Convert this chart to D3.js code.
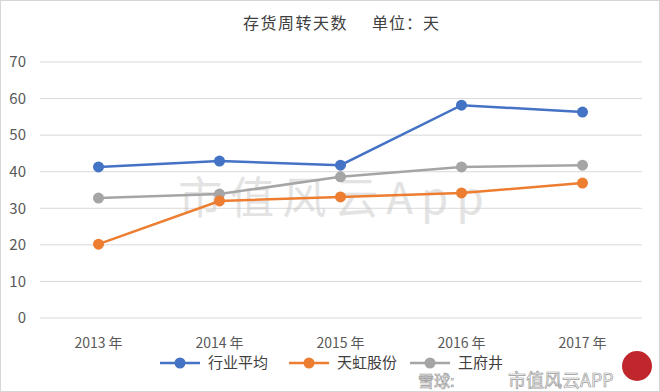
<!DOCTYPE html>
<html>
<head>
<meta charset="utf-8">
<script src="https://cdn.jsdelivr.net/npm/d3@7"></script>
<style>
  body { margin: 0; background: #fff; }
  svg { display: block; font-family: "Noto Sans CJK SC", "Noto Sans", sans-serif; }
</style>
</head>
<body>
<div id="chart"></div>
<script>
const years = ["2013 年", "2014 年", "2015 年", "2016 年", "2017 年"];
const industryAvg = [41.3, 42.9, 41.8, 58.2, 56.3];
const tianhong = [20.2, 32.0, 33.1, 34.2, 36.9];
const peer = [32.8, 33.9, 38.6, 41.3, 41.8];
const yTicks = [0, 10, 20, 30, 40, 50, 60, 70];
const seriesNames = ["行业平均", "天虹股份", "王府井"];

const W = 660, H = 392;
const svg = d3.select("#chart").append("svg")
  .attr("width", W).attr("height", H);

// faint frame around picture
svg.append("rect")
  .attr("x", 0.5).attr("y", 0.5)
  .attr("width", W - 1).attr("height", H - 1)
  .attr("fill", "none").attr("stroke", "#d6d6d6");

const x = d3.scaleBand().domain(years).range([38, 643]);
const y = d3.scaleLinear().domain([0, 70]).range([318, 62]);

// grid
svg.append("g")
  .selectAll("line")
  .data(yTicks)
  .join("line")
  .attr("x1", 40).attr("x2", 642)
  .attr("y1", d => y(d)).attr("y2", d => y(d))
  .attr("stroke", "#d9d9d9").attr("stroke-width", 1);

// y labels
svg.append("g")
  .selectAll("text")
  .data(yTicks)
  .join("text")
  .attr("x", 26).attr("y", d => y(d))
  .attr("dy", "0.35em")
  .attr("text-anchor", "end")
  .style("font-size", "15px")
  .style("fill", "#595959")
  .text(d => d);

// x labels
svg.append("g")
  .selectAll("text")
  .data(years)
  .join("text")
  .attr("x", d => x(d) + x.bandwidth() / 2)
  .attr("y", 343)
  .attr("dy", "0.35em")
  .attr("text-anchor", "middle")
  .style("font-size", "14px")
  .style("fill", "#595959")
  .text(d => d);

// watermark inside plot
svg.append("text")
  .attr("x", 335).attr("y", 214)
  .attr("text-anchor", "middle")
  .style("font-size", "44px")
  .style("letter-spacing", "8px")
  .style("fill", "#c8c8c8")
  .style("opacity", 0.5)
  .text("市值风云App");

// title
svg.append("text")
  .attr("x", 243).attr("y", 23)
  .attr("dy", "0.35em")
  .style("font-size", "16px")
  .style("letter-spacing", "1.5px")
  .style("fill", "#404040")
  .text("存货周转天数");
svg.append("text")
  .attr("x", 372).attr("y", 23)
  .attr("dy", "0.35em")
  .style("font-size", "16px")
  .style("letter-spacing", "1px")
  .style("fill", "#404040")
  .text("单位：天");

const series = [
  { name: seriesNames[2], values: peer, color: "#a5a5a5" },
  { name: seriesNames[1], values: tianhong, color: "#ed7d31" },
  { name: seriesNames[0], values: industryAvg, color: "#4472c4" }
];

const line = d3.line()
  .x((d, i) => x(years[i]) + x.bandwidth() / 2)
  .y(d => y(d));

series.forEach(s => {
  svg.append("path")
    .datum(s.values)
    .attr("d", line)
    .attr("fill", "none")
    .attr("stroke", s.color)
    .attr("stroke-width", 2.5);
  svg.append("g")
    .selectAll("circle")
    .data(s.values)
    .join("circle")
    .attr("cx", (d, i) => x(years[i]) + x.bandwidth() / 2)
    .attr("cy", d => y(d))
    .attr("r", 5.5)
    .attr("fill", s.color);
});

// legend
const legendItems = [
  { name: seriesNames[0], color: "#4472c4", x0: 160 },
  { name: seriesNames[1], color: "#ed7d31", x0: 289 },
  { name: seriesNames[2], color: "#a5a5a5", x0: 410 }
];
const ly = 363;
legendItems.forEach(it => {
  svg.append("line")
    .attr("x1", it.x0).attr("x2", it.x0 + 40)
    .attr("y1", ly).attr("y2", ly)
    .attr("stroke", it.color).attr("stroke-width", 2.5);
  svg.append("circle")
    .attr("cx", it.x0 + 20).attr("cy", ly).attr("r", 5.5)
    .attr("fill", it.color);
  svg.append("text")
    .attr("x", it.x0 + 48).attr("y", ly)
    .attr("dy", "0.35em")
    .style("font-size", "15px")
    .style("fill", "#404040")
    .text(it.name);
});

// bottom-right watermark
svg.append("text")
  .attr("x", 418).attr("y", 387)
  .style("font-size", "16px")
  .style("fill", "#ffffff")
  .style("stroke", "#9a9a9a")
  .style("stroke-width", 0.7)
  .text("雪球:");
svg.append("text")
  .attr("x", 508).attr("y", 387)
  .style("font-size", "18px")
  .style("fill", "#ffffff")
  .style("stroke", "#9a9a9a")
  .style("stroke-width", 0.7)
  .text("市值风云APP");
svg.append("circle")
  .attr("cx", 637).attr("cy", 366).attr("r", 15)
  .attr("fill", "#c0272d");
</script>
</body>
</html>
